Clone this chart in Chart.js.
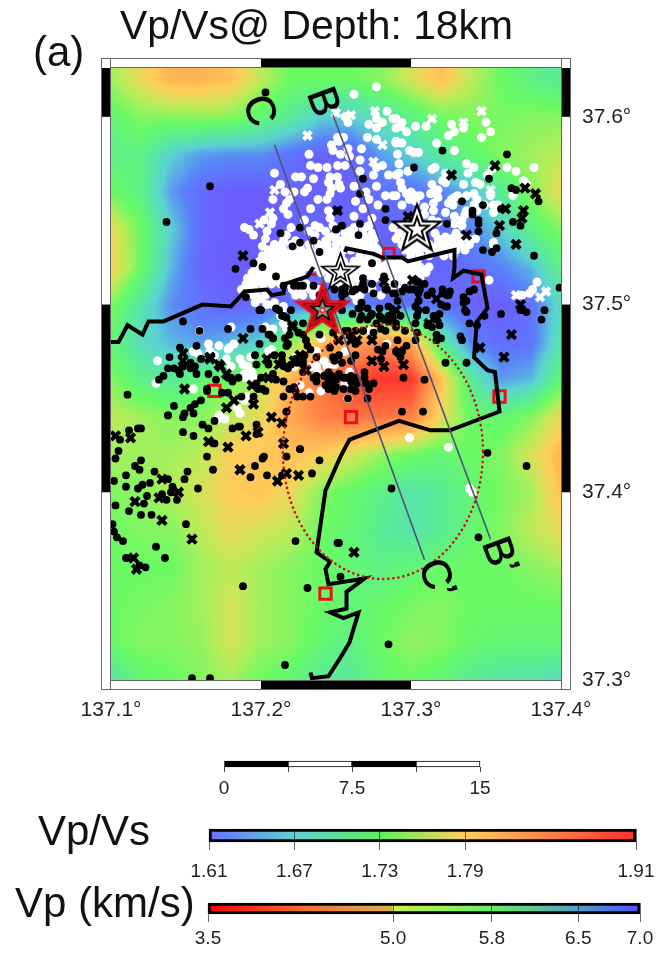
<!DOCTYPE html>
<html>
<head>
<meta charset="utf-8">
<style>
html,body{margin:0;padding:0;background:#fff;width:662px;height:953px;overflow:hidden}
canvas{position:absolute;left:0}
</style>
<script src="https://cdn.jsdelivr.net/npm/chart.js@4/dist/chart.umd.min.js"></script>
</head>
<body>
<canvas id="map" width="662" height="953" style="top:0"></canvas>
<canvas id="scaleBar" width="662" height="60" style="top:750px"></canvas>
<canvas id="vpvsBar" width="662" height="70" style="top:815px"></canvas>
<canvas id="vpBar" width="662" height="60" style="top:892px"></canvas>
<script>
const FONT='"Liberation Sans", Arial, sans-serif';
const lonBase=137, latBase=37;
const lonTicks=[137.1,137.2,137.3,137.4];
const latTicks=[37.3,37.4,37.5,37.6];
const lonRange=[137.1,137.4];
const latRange=[37.3,37.626];

const titleText='Vp/Vs@ Depth: 18km';
const panelLabel='(a)';
const vpvsLabel='Vp/Vs';
const vpLabel='Vp (km/s)';

// Vp/Vs model, rows north to south, columns west to east
const gridLons=[137.10,137.12,137.14,137.16,137.18,137.20,137.22,137.24,137.26,137.28,137.30,137.32,137.34,137.36,137.38,137.40];
const gridLats=[37.62,37.60,37.58,37.56,37.54,37.52,37.50,37.48,37.46,37.44,37.42,37.40,37.38,37.36,37.34,37.32,37.30];
const vpvsGrid=[
[1.75,1.78,1.81,1.81,1.80,1.76,1.73,1.73,1.73,1.74,1.77,1.80,1.76,1.73,1.71,1.70],
[1.72,1.74,1.74,1.745,1.74,1.72,1.70,1.67,1.67,1.69,1.71,1.73,1.74,1.735,1.74,1.74],
[1.71,1.71,1.67,1.65,1.645,1.645,1.63,1.62,1.62,1.65,1.67,1.70,1.72,1.74,1.75,1.76],
[1.73,1.71,1.65,1.625,1.615,1.615,1.62,1.62,1.62,1.63,1.63,1.64,1.66,1.70,1.74,1.78],
[1.78,1.73,1.67,1.625,1.615,1.615,1.62,1.62,1.62,1.62,1.62,1.63,1.64,1.67,1.71,1.74],
[1.79,1.73,1.66,1.62,1.615,1.62,1.62,1.62,1.62,1.62,1.62,1.62,1.63,1.64,1.66,1.71],
[1.74,1.69,1.645,1.63,1.62,1.625,1.63,1.64,1.64,1.63,1.63,1.63,1.62,1.615,1.63,1.68],
[1.72,1.68,1.66,1.65,1.66,1.67,1.74,1.80,1.82,1.84,1.82,1.70,1.64,1.625,1.63,1.69],
[1.74,1.71,1.70,1.72,1.73,1.76,1.81,1.86,1.89,1.90,1.90,1.80,1.70,1.65,1.66,1.72],
[1.76,1.75,1.74,1.74,1.76,1.78,1.82,1.85,1.86,1.86,1.85,1.78,1.73,1.72,1.74,1.78],
[1.75,1.75,1.75,1.76,1.79,1.795,1.80,1.79,1.77,1.745,1.73,1.72,1.73,1.74,1.77,1.81],
[1.74,1.74,1.755,1.77,1.79,1.795,1.78,1.74,1.725,1.71,1.69,1.70,1.72,1.735,1.75,1.80],
[1.73,1.74,1.74,1.76,1.78,1.77,1.76,1.73,1.72,1.70,1.69,1.70,1.72,1.74,1.76,1.78],
[1.73,1.73,1.73,1.75,1.76,1.75,1.74,1.73,1.72,1.71,1.72,1.725,1.73,1.73,1.74,1.75],
[1.73,1.735,1.74,1.75,1.77,1.75,1.74,1.73,1.72,1.725,1.735,1.74,1.73,1.73,1.73,1.73],
[1.73,1.74,1.74,1.745,1.77,1.75,1.74,1.72,1.71,1.73,1.745,1.74,1.725,1.72,1.72,1.72],
[1.69,1.72,1.73,1.74,1.75,1.73,1.72,1.70,1.70,1.72,1.73,1.72,1.70,1.69,1.69,1.68]
];
const colorValues=[1.61,1.64,1.67,1.70,1.73,1.76,1.79,1.85,1.91];
const colorRGB=[[110,85,255],[90,130,250],[90,210,210],[90,235,150],[105,250,100],[190,235,90],[255,205,90],[255,130,70],[255,40,40]];

// lon,lat pairs, degrees past lonBase / latBase
const coastWest=[.100,.480,.105,.480,.111,.489,.121,.484,.125,.491,.135,.491,.161,.500,.180,.499,.189,.507,.204,.508,.207,.505,.215,.506,.216,.511,.231,.515,.235,.520];
const coastEast=[.256,.528,.257,.530,.275,.527,.281,.525,.294,.525,.298,.523,.313,.526,.329,.529,.329,.520,.328,.514,.335,.518,.347,.516,.351,.498,.344,.491,.342,.472,.351,.465,.356,.464,.359,.443,.326,.433,.313,.433,.292,.438,.259,.428,.253,.419,.243,.401,.237,.368,.246,.363,.243,.359,.245,.351,.269,.354,.257,.347,.257,.338,.246,.336,.255,.333,.265,.336,.259,.320,.253,.312,.245,.302,.234,.301,.233,.304];
const sectionB=[.248,.601,.353,.375];
const sectionC=[.209,.585,.309,.364];
const redSquares=[.169,.454,.260,.440,.243,.346,.359,.451,.345,.515,.285,.527,.237,.519];
const surveyEllipse={lon:137.2813,lat:37.4215,rLon:.0667,rLat:.0677};

const whiteCrosses=[.231,.590,.250,.602,.260,.601,.276,.603,.281,.585,.275,.576,.209,.561,.206,.549,.199,.543,.347,.603,.314,.599,.335,.597,.353,.561,.370,.505,.390,.507,.386,.504];
const whiteDots=[
.262,.612,.277,.616,.256,.600,.258,.597,.284,.603,.277,.599,.272,.596,.281,.597,.288,.599,.277,.594,.290,.594,.271,.589,.277,.588,.290,.587,.251,.589,.255,.589,.247,.585,.252,.587,.258,.583,.248,.582,.267,.583,.232,.580,.253,.580,.259,.579,.266,.577,.233,.574,.238,.573,.244,.573,.251,.574,.256,.574,.266,.571,.277,.573,.281,.574,.275,.569,.285,.569,.209,.570,.223,.568,.227,.568,.235,.567,.246,.568,.251,.568,.245,.565,.247,.562,.252,.564,.253,.562,.213,.564,.216,.560,.222,.560,.231,.562,.229,.560,.246,.559,.262,.563,.270,.560,.277,.563,.283,.558,.288,.558,.208,.556,.238,.556,.244,.556,.219,.556,.217,.554,.215,.551,.218,.548,.233,.551,.263,.555,.272,.556,.268,.551,.278,.553,.245,.550,.202,.545,.208,.546,.207,.543,.189,.541,.192,.540,.195,.537,.204,.539,.203,.535,.201,.531,.236,.542,.229,.545,.246,.546,.248,.542,.262,.547,.274,.546,.259,.539,.269,.541,.272,.542,.220,.541,.217,.537,.215,.534,.223,.534,.232,.539,.236,.537,.239,.541,.243,.539,.246,.536,.250,.535,.243,.534,.232,.532,.241,.530,.212,.530,.209,.528,.221,.528,.227,.528,.254,.534,.274,.534,
.350,.597,.353,.592,.347,.589,.335,.594,.327,.596,.329,.592,.325,.590,.303,.595,.310,.595,.297,.592,.294,.597,.290,.599,.293,.595,.317,.586,.329,.582,.305,.581,.299,.582,.302,.581,.290,.586,.294,.586,.291,.580,.292,.575,.290,.569,.292,.570,.298,.571,.316,.573,.314,.572,.337,.575,.342,.573,.338,.570,.354,.572,.351,.569,.364,.573,.370,.571,.382,.573,.375,.566,.377,.564,.323,.570,.321,.566,.323,.565,.335,.564,.343,.565,.346,.564,.353,.558,.368,.558,.314,.564,.316,.561,.318,.561,.313,.559,.318,.557,.293,.565,.294,.562,.290,.558,.297,.559,.300,.560,.303,.558,.306,.558,.299,.556,.303,.555,.309,.552,.315,.554,.315,.550,.294,.553,.337,.558,.342,.559,.331,.558,.327,.556,.329,.557,.325,.554,.328,.553,.344,.556,.342,.553,.349,.553,.355,.553,.358,.553,.355,.549,.344,.550,.323,.549,.336,.548,.334,.545,.329,.543,.337,.550,.318,.544,.314,.545,.339,.532,.355,.532,.318,.535,.323,.536,.327,.535,.331,.536,.323,.533,.328,.532,.320,.528,.309,.548,.329,.547,.334,.542,
.209,.532,.214,.532,.220,.532,.226,.532,.238,.532,.244,.532,.205,.529,.210,.529,.215,.529,.221,.529,.227,.529,.233,.529,.239,.529,.245,.529,.250,.529,.201,.526,.206,.526,.212,.526,.218,.526,.224,.526,.230,.526,.235,.526,.241,.526,.247,.526,.253,.526,.199,.523,.204,.523,.209,.523,.214,.523,.220,.523,.226,.523,.232,.523,.238,.523,.243,.523,.249,.523,.255,.523,.197,.520,.202,.520,.208,.520,.213,.520,.219,.520,.225,.520,.230,.520,.236,.520,.242,.520,.247,.520,.253,.520,.258,.520,.194,.517,.199,.517,.205,.517,.210,.517,.216,.517,.222,.517,.227,.517,.240,.517,.246,.517,.251,.517,.256,.517,.262,.517,.191,.514,.197,.514,.203,.514,.208,.514,.214,.514,.220,.514,.245,.514,.250,.514,.256,.514,.261,.514,.190,.511,.195,.511,.201,.511,.207,.511,.213,.511,.218,.511,.224,.511,.230,.511,.250,.511,.255,.511,.260,.511,.266,.511,.187,.508,.192,.508,.196,.508,.202,.508,.221,.508,.227,.508,.233,.508,.238,.508,.263,.508,.191,.505,.197,.505,.203,.505,.223,.505,.228,.505,.235,.505,
.216,.5275,.222,.5275,.228,.5275,.234,.5275,.240,.5275,.206,.5245,.212,.5245,.217,.5245,.223,.5245,.229,.5245,.235,.5245,.241,.5245,.246,.5245,.201,.5215,.206,.5215,.211,.5215,.217,.5215,.222,.5215,.228,.5215,.234,.5215,.240,.5215,.245,.5215,.196,.5185,.202,.5185,.207,.5185,.213,.5185,.219,.5185,.225,.5185,.243,.5185,.249,.5185,.197,.5155,.202,.5155,.208,.5155,.213,.5155,.219,.5155,.225,.5155,.193,.5125,.199,.5125,.205,.5125,.210,.5125,.216,.5125,
.262,.541,.268,.541,.288,.541,.296,.541,.250,.538,.256,.538,.262,.538,.268,.538,.274,.538,.292,.538,.298,.538,.304,.538,.316,.538,.330,.538,.258,.535,.264,.535,.270,.535,.276,.535,.290,.535,.296,.535,.302,.535,.334,.535,.338,.535,.343,.535,.250,.532,.256,.532,.262,.532,.268,.532,.274,.532,.294,.532,.300,.532,.306,.532,.312,.532,.318,.532,.333,.532,.255,.529,.260,.529,.266,.529,.272,.529,.278,.529,.296,.529,.302,.529,.306,.529,.312,.529,.318,.529,.324,.529,.330,.529,.336,.529,.266,.526,.272,.526,.278,.526,.300,.526,.306,.526,.312,.526,.322,.526,.328,.526,.262,.523,.268,.523,.274,.523,.286,.523,.292,.523,.298,.523,.304,.523,.264,.520,.270,.520,.276,.520,.282,.520,.288,.520,.294,.520,.300,.520,.306,.520,.312,.520,.268,.517,.274,.517,.280,.517,.286,.517,.292,.517,.298,.517,.304,.517,.310,.517,.252,.514,.258,.514,.264,.514,.276,.514,.282,.514,.288,.514,.294,.514,.300,.514,.306,.514,.284,.511,.290,.511,.296,.511,.259,.508,.265,.508,.274,.508,.288,.508,.294,.508,.262,.505,.266,.505,.280,.505,.264,.502,
.253,.5335,.259,.5335,.265,.5335,.271,.5335,.258,.5305,.264,.5305,.270,.5305,.276,.5305,.298,.5305,.304,.5305,.310,.5305,.316,.5305,.322,.5305,.266,.5215,.272,.5215,.278,.5215,.284,.5215,.290,.5215,.296,.5215,.302,.5215,.267,.5185,.273,.5185,.279,.5185,.285,.5185,.291,.5185,.297,.5185,.303,.5185,.309,.5185,.272,.5155,.278,.5155,.284,.5155,.290,.5155,.296,.5155,.302,.5155,
.131,.470,.155,.475,.158,.474,.165,.479,.172,.478,.166,.475,.169,.473,.177,.471,.179,.477,.182,.479,.178,.476,.186,.471,.193,.472,.188,.468,.191,.467,.189,.463,.194,.464,.195,.461,.190,.461,.180,.467,.205,.475,.207,.476,.208,.487,.203,.488,.215,.490,.217,.487,.215,.499,.209,.501,.204,.500,.196,.501,.213,.494,.130,.458,.155,.455,.189,.449,.191,.451,.184,.445,.186,.442,.172,.441,.176,.439,.171,.439,.159,.486,.180,.488,
.242,.470,.237,.475,.234,.467,.237,.467,.238,.464,.222,.467,.226,.457,.232,.453,.223,.472,.256,.475,.244,.467,.240,.454,.258,.450,.273,.486,.284,.479,.240,.482,.259,.464,.256,.458,.249,.468,.233,.476,
.299,.429,.325,.424,.339,.402,.341,.400,.374,.505,.384,.512,.381,.508,.379,.506,.352,.513,.355,.533,.195,.505,.200,.503,.208,.500,.214,.496];
const blackCrosses=[.188,.526,.188,.482,.221,.489,.148,.474,.166,.472,.172,.468,.251,.550,.298,.547,.337,.537,.359,.542,.356,.574,.327,.569,.376,.562,.383,.559,.363,.551,.375,.550,.374,.546,.370,.532,.373,.500,.367,.484,.362,.472,.346,.477,.282,.512,.301,.513,.312,.490,.317,.493,.290,.497,.317,.503,.292,.475,.274,.470,.264,.481,.274,.481,.295,.468,
.148,.470,.166,.471,.173,.467,.177,.463,.149,.455,.182,.449,.177,.445,.195,.447,.204,.471,.212,.468,.205,.461,.194,.457,.222,.470,.226,.473,.230,.465,.221,.488,.207,.440,.214,.437,.215,.426,.165,.427,.178,.424,.190,.430,.186,.412,.134,.407,.132,.397,.116,.395,.134,.385,.145,.400,.154,.375,.115,.365,.117,.359,.103,.430,.113,.429,.198,.432,.217,.410,.211,.406,.225,.409,.262,.368,.252,.481,.260,.481,.282,.467];
const blackDots=[
.203,.613,.166,.563,.137,.544,.213,.538,.226,.541,.221,.531,.226,.533,.235,.534,.239,.528,.195,.522,.201,.520,.183,.519,.210,.515,.228,.510,.235,.510,.190,.504,.200,.497,.210,.498,.215,.494,.220,.497,.148,.491,.159,.486,.178,.487,.193,.487,.201,.487,.206,.484,.208,.482,.228,.490,.219,.484,.146,.477,.157,.478,.199,.479,.217,.478,.230,.481,.231,.478,.239,.484,.139,.472,.196,.473,.209,.473,.237,.472,.246,.477,.251,.550,.250,.540,
.321,.582,.302,.573,.364,.580,.352,.567,.268,.567,.266,.559,.283,.551,.283,.545,.266,.543,.265,.537,.254,.542,.250,.540,.334,.555,.324,.543,.348,.553,.341,.550,.341,.548,.345,.545,.345,.543,.345,.539,.357,.538,.348,.529,.354,.528,.357,.530,.367,.562,.370,.561,.385,.555,.360,.551,.368,.544,.373,.542,.382,.526,.389,.497,.387,.492,.360,.495,.399,.509,.377,.496,.373,.497,.321,.508,.326,.507,.325,.505,.342,.508,.339,.507,.335,.504,.335,.501,.337,.502,.336,.497,.337,.496,.339,.490,.344,.489,.349,.494,.333,.483,.334,.481,.337,.469,
.274,.522,.274,.511,.282,.515,.283,.508,.288,.506,.267,.501,.266,.498,.263,.508,.267,.509,.254,.505,.256,.506,.274,.495,.279,.498,.285,.499,.305,.512,.305,.506,.305,.502,.305,.497,.304,.494,.296,.509,.299,.508,.303,.513,.309,.511,.302,.508,.294,.507,.320,.500,.323,.499,.315,.494,.317,.492,.319,.489,.311,.489,.314,.488,.317,.484,.317,.481,.279,.494,.282,.492,.285,.494,.288,.496,.290,.490,.296,.486,.268,.486,.275,.485,.280,.487,.310,.497,.290,.475,.294,.475,.297,.478,.263,.473,.293,.472,
.135,.462,.132,.460,.138,.466,.142,.466,.145,.465,.148,.467,.153,.469,.156,.467,.157,.463,.146,.463,.153,.466,.160,.471,.165,.463,.170,.460,.180,.461,.185,.461,.181,.459,.178,.461,.164,.455,.178,.453,.174,.453,.187,.451,.195,.451,.160,.449,.156,.447,.153,.445,.149,.442,.148,.440,.155,.442,.142,.446,.138,.441,
.197,.468,.205,.468,.208,.463,.200,.461,.197,.458,.201,.455,.198,.455,.203,.454,.210,.460,.215,.459,.218,.466,.229,.473,.220,.468,.228,.464,.223,.471,.199,.497,.212,.497,.214,.494,.217,.493,.205,.484,.208,.482,.217,.443,.228,.451,.226,.423,.148,.432,.155,.430,.161,.436,.165,.434,.169,.438,.181,.434,.186,.435,.197,.436,.197,.431,.169,.426,.164,.419,.202,.419,.196,.414,.120,.417,.120,.434,
.111,.452,.138,.441,.118,.434,.112,.433,.106,.428,.105,.422,.103,.418,.116,.414,.119,.412,.110,.409,.129,.411,.102,.406,.110,.403,.118,.402,.121,.404,.126,.405,.138,.407,.141,.403,.149,.407,.151,.411,.158,.402,.140,.400,.134,.399,.137,.396,.124,.398,.122,.394,.103,.393,.112,.390,.120,.388,.127,.388,.144,.396,.150,.383,.101,.383,.102,.379,.104,.376,.108,.374,.130,.371,.136,.365,.110,.365,.123,.360,.119,.361,.223,.374,.231,.349,.188,.350,.216,.308,.154,.301,.166,.301,.251,.373,.168,.412,.185,.435,.201,.418,.193,.408,.204,.409,.217,.419,.226,.423,.239,.417,.217,.443,.234,.410,.214,.409,.164,.454,
.287,.402,.308,.443,.309,.460,.351,.421,.377,.414,.345,.376,.252,.373,.253,.355,.285,.319,.271,.450,
.215,.510,.222,.510,.225,.510,.239,.505,.242,.507,.249,.508,.254,.508,.256,.509,.261,.507,.268,.511,.269,.508,.268,.514,.275,.506,.284,.508,.289,.511,.290,.506,.291,.502,.306,.508,.314,.507,.311,.505,.305,.502,.303,.499,.304,.494,.303,.490,.304,.485,.303,.481,.285,.491,.293,.494,.288,.493,.290,.488,.291,.481,.319,.495,.324,.499,.321,.506,.324,.505,.320,.482,.323,.469,.295,.461,.294,.443,.254,.501,.254,.497,.261,.495,.265,.498,.267,.494,.271,.498,.273,.494,.266,.492,.271,.492,.277,.490,.280,.493,.256,.486,.258,.486,.263,.486,.268,.486,.283,.486,.225,.485,.228,.484,.216,.482,.217,.478,.218,.479,.214,.473,.214,.470,.216,.467,.224,.469,.228,.468,.228,.470,.233,.476,.248,.485,.259,.484,.263,.479,.248,.472,.252,.473,.249,.470,.254,.469,.260,.470,.278,.476,.281,.475,.280,.471,.283,.478,.269,.464,.269,.461,.270,.458,.272,.455,.275,.458,
.235,.461,.237,.462,.242,.462,.245,.464,.247,.462,.245,.460,.247,.458,.243,.457,.245,.455,.250,.460,.250,.456,.252,.463,.255,.461,.257,.461,.260,.462,.263,.461,.260,.459,.264,.458,.260,.455,.263,.454,.255,.455,.249,.454,.237,.459,.222,.456,.219,.455,.223,.454,.224,.451,.215,.451,.233,.451,.258,.450];

const starPlain=[.304,.540,.253,.517];
const starMain=[.241,.497];
const sectionLabels=[{t:'B',lon:137.2413,lat:37.6080},{t:'C',lon:137.1987,lat:37.6032},{t:'B\u2019',lon:137.3580,lat:37.3684},{t:'C\u2019',lon:137.3160,lat:37.3562}];

const vpvsTicks=[1.61,1.67,1.73,1.79,1.91];
const vpTicks=[3.5,5.0,5.8,6.5,7.0];
const scaleKm=[0,7.5,15];
const scaleBreaks=[0,3.75,7.5,11.25,15];
const vpvsStops=[[0,'#6a70ff'],[.2,'#60d0d0'],[.4,'#60f060'],[.6,'#ffd060'],[1,'#ff3030']];
const vpStops=[[0,'#ff0000'],[.22,'#f07030'],[.425,'#dcb050'],[.43,'#c8f050'],[.66,'#60f060'],[.85,'#50a0c8'],[1,'#5050ff']];

function pts(a){const o=[];for(let i=0;i<a.length;i+=2)o.push({x:lonBase+a[i],y:latBase+a[i+1]});return o;}
function vpvsColor(v){
  if(v<=colorValues[0])return colorRGB[0];
  for(let i=1;i<colorValues.length;i++){
    if(v<=colorValues[i]){
      const f=(v-colorValues[i-1])/(colorValues[i]-colorValues[i-1]),a=colorRGB[i-1],b=colorRGB[i];
      return [a[0]+(b[0]-a[0])*f,a[1]+(b[1]-a[1])*f,a[2]+(b[2]-a[2])*f];
    }
  }
  return colorRGB[colorRGB.length-1];
}
function starPath(g,m,r){
  g.beginPath();
  for(let i=0;i<10;i++){
    const rr=i%2?r*.4:r,an=-Math.PI/2+i*Math.PI/5;
    g.lineTo(m+rr*Math.cos(an),m+rr*Math.sin(an));
  }
  g.closePath();
}
function newStarCanvas(R){
  const c=document.createElement('canvas');c.width=c.height=Math.ceil(R*2+14);
  const g=c.getContext('2d');g.lineJoin='miter';g.miterLimit=6;
  return [c,g,c.width/2];
}
function plainStar(R,inner,lw){
  const [c,g,m]=newStarCanvas(R);
  starPath(g,m,R);g.fillStyle='#fff';g.fill();g.strokeStyle='#000';g.lineWidth=lw;g.stroke();
  starPath(g,m,inner);g.lineWidth=lw*.9;g.stroke();
  return c;
}
function mainStar(R){
  const [c,g,m]=newStarCanvas(R);
  starPath(g,m,R);g.fillStyle='#000';g.fill();g.strokeStyle='#e8101c';g.lineWidth=3;g.stroke();
  starPath(g,m,R*.66);g.lineWidth=2;g.stroke();
  starPath(g,m,R*.36);g.fillStyle='#8fa888';g.fill();
  g.fillStyle='#e8101c';g.beginPath();g.arc(m,m,3,0,7);g.fill();
  g.fillStyle='#fff';g.beginPath();g.arc(m,m,1.6,0,7);g.fill();
  return c;
}

const mapPlugin={
  id:'mapLayers',
  beforeDatasetsDraw(chart){
    const {ctx,chartArea:a,scales:{x,y}}=chart;
    const L=Math.round(a.left),T=Math.round(a.top),W=Math.round(a.right-a.left),H=Math.round(a.bottom-a.top);
    const img=ctx.createImageData(W,H);
    const dLon=gridLons[1]-gridLons[0],dLat=gridLats[0]-gridLats[1];
    for(let j=0;j<H;j++){
      const lat=y.getValueForPixel(T+j+.5);
      let fy=(gridLats[0]-lat)/dLat;fy=Math.max(0,Math.min(gridLats.length-1.001,fy));
      const r=Math.floor(fy),u=fy-r;
      for(let i=0;i<W;i++){
        const lon=x.getValueForPixel(L+i+.5);
        let fx=(lon-gridLons[0])/dLon;fx=Math.max(0,Math.min(gridLons.length-1.001,fx));
        const q=Math.floor(fx),t=fx-q;
        const v=(vpvsGrid[r][q]*(1-t)+vpvsGrid[r][q+1]*t)*(1-u)+(vpvsGrid[r+1][q]*(1-t)+vpvsGrid[r+1][q+1]*t)*u;
        const c=vpvsColor(v),k=(j*W+i)*4;
        img.data[k]=c[0];img.data[k+1]=c[1];img.data[k+2]=c[2];img.data[k+3]=255;
      }
    }
    ctx.putImageData(img,L,T);
  },
  afterDatasetsDraw(chart){
    const {ctx,scales:{x,y}}=chart;
    ctx.save();
    // dotted ellipse
    const cx=x.getPixelForValue(surveyEllipse.lon),cy=y.getPixelForValue(surveyEllipse.lat);
    const rx=x.getPixelForValue(surveyEllipse.lon+surveyEllipse.rLon)-cx,ry=cy-y.getPixelForValue(surveyEllipse.lat+surveyEllipse.rLat);
    ctx.beginPath();ctx.ellipse(cx,cy,rx,ry,0,0,Math.PI*2);
    ctx.setLineDash([.1,5]);ctx.lineCap='round';ctx.lineWidth=2.6;ctx.strokeStyle='#c80f1e';ctx.stroke();
    ctx.setLineDash([]);ctx.lineCap='butt';
    // rotated section letters
    ctx.fillStyle='#000';ctx.strokeStyle='#000';ctx.lineWidth=.7;ctx.font='41px '+FONT;ctx.textBaseline='middle';ctx.textAlign='left';
    sectionLabels.forEach(l=>{
      ctx.save();
      ctx.translate(x.getPixelForValue(l.lon),y.getPixelForValue(l.lat));
      ctx.rotate(70*Math.PI/180);
      const ox=-ctx.measureText(l.t[0]).width/2;
      ctx.fillText(l.t,ox,1);ctx.strokeText(l.t,ox,1);
      ctx.restore();
    });
    ctx.restore();
  },
  afterDraw(chart){
    const {ctx,chartArea:a,scales:{x,y}}=chart;
    const band=10;
    ctx.save();
    const L=a.left,R=a.right,T=a.top,B=a.bottom;
    ctx.fillStyle='#fff';
    ctx.fillRect(L-band,T-band,R-L+2*band,band);ctx.fillRect(L-band,B,R-L+2*band,band);
    ctx.fillRect(L-band,T,band,B-T);ctx.fillRect(R,T,band,B-T);
    ctx.fillStyle='#000';
    const bx=[x.getPixelForValue(137.2),x.getPixelForValue(137.3)];
    ctx.fillRect(bx[0],T-band,bx[1]-bx[0],band);ctx.fillRect(bx[0],B,bx[1]-bx[0],band);
    [[37.4,37.5],[37.6,latRange[1]]].forEach(([p,q])=>{
      const y1=y.getPixelForValue(q),y2=y.getPixelForValue(p);
      ctx.fillRect(L-band,y1,band,y2-y1);ctx.fillRect(R,y1,band,y2-y1);
    });
    ctx.strokeStyle='#666';ctx.lineWidth=1;
    ctx.strokeRect(L-band+.5,T-band+.5,R-L+2*band-1,B-T+2*band-1);
    ctx.strokeRect(L-.5,T-.5,R-L+1,B-T+1);
    ctx.beginPath();
    ctx.moveTo(L-.5,T-band);ctx.lineTo(L-.5,T);ctx.moveTo(R+.5,T-band);ctx.lineTo(R+.5,T);
    ctx.moveTo(L-.5,B);ctx.lineTo(L-.5,B+band);ctx.moveTo(R+.5,B);ctx.lineTo(R+.5,B+band);
    ctx.stroke();
    // page texts
    ctx.fillStyle='#111';ctx.textBaseline='middle';ctx.textAlign='left';
    ctx.font='40.8px '+FONT;ctx.fillText(titleText,120,28);
    ctx.font='42px '+FONT;
    ctx.fillText(panelLabel,33,54);
    ctx.fillText(vpvsLabel,38,833);
    ctx.fillText(vpLabel,15,905);
    ctx.restore();
  }
};

new Chart(document.getElementById('map'),{
  type:'scatter',
  plugins:[mapPlugin],
  data:{datasets:[
    {label:'Mainshock',data:pts(starMain),pointStyle:mainStar(26),pointRadius:28},
    {label:'Large events',data:pts(starPlain),pointStyle:[plainStar(25,12.5,2.2),plainStar(19.5,9.5,1.7)],pointRadius:24},
    {label:'Section B',data:pts(sectionB),showLine:true,borderColor:'#50507a',borderWidth:1.6,pointRadius:0},
    {label:'Section C',data:pts(sectionC),showLine:true,borderColor:'#50507a',borderWidth:1.6,pointRadius:0},
    {label:'Black crosses',data:pts(blackCrosses),pointStyle:'crossRot',pointRadius:6,pointBorderColor:'#000',pointBorderWidth:4},
    {label:'Black dots',data:pts(blackDots),pointStyle:'circle',pointRadius:3.9,pointBackgroundColor:'#000',pointBorderWidth:0},
    {label:'Coast west',data:pts(coastWest),showLine:true,borderColor:'#000',borderWidth:4,pointRadius:0},
    {label:'Coast east',data:pts(coastEast),showLine:true,borderColor:'#000',borderWidth:4,pointRadius:0},
    {label:'White crosses',data:pts(whiteCrosses),pointStyle:'crossRot',pointRadius:5.5,pointBorderColor:'#fff',pointBorderWidth:4},
    {label:'White dots',data:pts(whiteDots),pointStyle:'circle',pointRadius:4.5,pointBackgroundColor:'#fff',pointBorderWidth:0},
    {label:'Stations',data:pts(redSquares),pointStyle:'rect',pointRadius:8,pointBackgroundColor:'rgba(0,0,0,0)',pointBorderColor:'#e8101c',pointBorderWidth:3}
  ]},
  options:{
    responsive:false,animation:false,devicePixelRatio:1,events:[],
    layout:{padding:{left:111,top:68,right:21,bottom:231}},
    plugins:{legend:{display:false},title:{display:false},tooltip:{enabled:false}},
    scales:{
      x:{type:'linear',min:lonRange[0],max:lonRange[1],
        grid:{display:false},border:{display:false},
        afterBuildTicks:s=>{s.ticks=lonTicks.map(v=>({value:v}));},
        afterFit:s=>{s.height=42;s.paddingLeft=0;s.paddingRight=0;},
        ticks:{padding:10,maxRotation:0,autoSkip:false,color:'#222',font:{family:FONT,size:21},callback:v=>v.toFixed(1)+'\u00b0'}},
      y:{type:'linear',position:'right',min:latRange[0],max:latRange[1],
        grid:{display:false},border:{display:false},
        afterBuildTicks:s=>{s.ticks=latTicks.map(v=>({value:v}));},
        afterFit:s=>{s.width=80;},
        ticks:{padding:13,autoSkip:false,color:'#222',font:{family:FONT,size:21},callback:v=>v.toFixed(1)+'\u00b0'}}
    }
  }
});

function gradientFill(stops){
  return c=>{
    const a=c.chart.chartArea;if(!a)return '#888';
    const g=c.chart.ctx.createLinearGradient(a.left,0,a.right,0);
    stops.forEach(s=>g.addColorStop(s[0],s[1]));return g;
  };
}
function makeBar(id,range,values,stops,pad,axisH,tickLen,tickPad,fontSize){
  new Chart(document.getElementById(id),{
    type:'bar',
    data:{labels:[id],datasets:[{data:[range],backgroundColor:gradientFill(stops),borderColor:'#000',borderWidth:3,borderSkipped:false,barPercentage:1,categoryPercentage:1,clip:false}]},
    options:{
      indexAxis:'y',responsive:false,animation:false,devicePixelRatio:1,events:[],
      layout:{padding:pad},
      plugins:{legend:{display:false},tooltip:{enabled:false}},
      scales:{
        y:{display:false},
        x:{type:'linear',min:range[0],max:range[1],border:{display:false},
          grid:{z:1,color:'rgba(0,0,0,.55)',tickColor:'rgba(0,0,0,.6)',tickLength:tickLen,lineWidth:1},
          afterBuildTicks:s=>{s.ticks=values.map(v=>({value:v}));},
          afterFit:s=>{s.height=axisH;s.paddingLeft=0;s.paddingRight=0;},
          ticks:{padding:tickPad,maxRotation:0,autoSkip:false,color:'#222',font:{family:FONT,size:fontSize},callback:v=>values===vpTicks?v.toFixed(1):String(v)}}
      }
    }
  });
}
makeBar('vpvsBar',[1.61,1.91],vpvsTicks,vpvsStops,{left:209,right:26,top:14,bottom:0},43,8,10,19);
makeBar('vpBar',[3.5,7.0],vpTicks,vpStops,{left:208,right:22,top:11,bottom:0},38,8,5,19);

new Chart(document.getElementById('scaleBar'),{
  type:'bar',
  data:{labels:['km'],datasets:scaleBreaks.slice(0,-1).map((b,i)=>({data:[[b,scaleBreaks[i+1]]],backgroundColor:i%2?'#fff':'#000',borderColor:'#000',borderWidth:1,borderSkipped:false,barPercentage:1,categoryPercentage:1,grouped:false,clip:false}))},
  options:{
    indexAxis:'y',responsive:false,animation:false,devicePixelRatio:1,events:[],
    layout:{padding:{left:224,right:182,top:11,bottom:0}},
    plugins:{legend:{display:false},tooltip:{enabled:false}},
    scales:{
      y:{display:false},
      x:{type:'linear',min:0,max:15,border:{display:false},
        grid:{drawOnChartArea:false,tickColor:'#444',tickLength:5,lineWidth:1},
        afterBuildTicks:s=>{s.ticks=scaleBreaks.map(v=>({value:v}));},
        afterFit:s=>{s.height=43;s.paddingLeft=0;s.paddingRight=0;},
        ticks:{padding:5,maxRotation:0,autoSkip:false,color:'#222',font:{family:FONT,size:19},callback:v=>scaleKm.includes(v)?String(v):''}}
    }
  }
});
</script>
</body>
</html>
